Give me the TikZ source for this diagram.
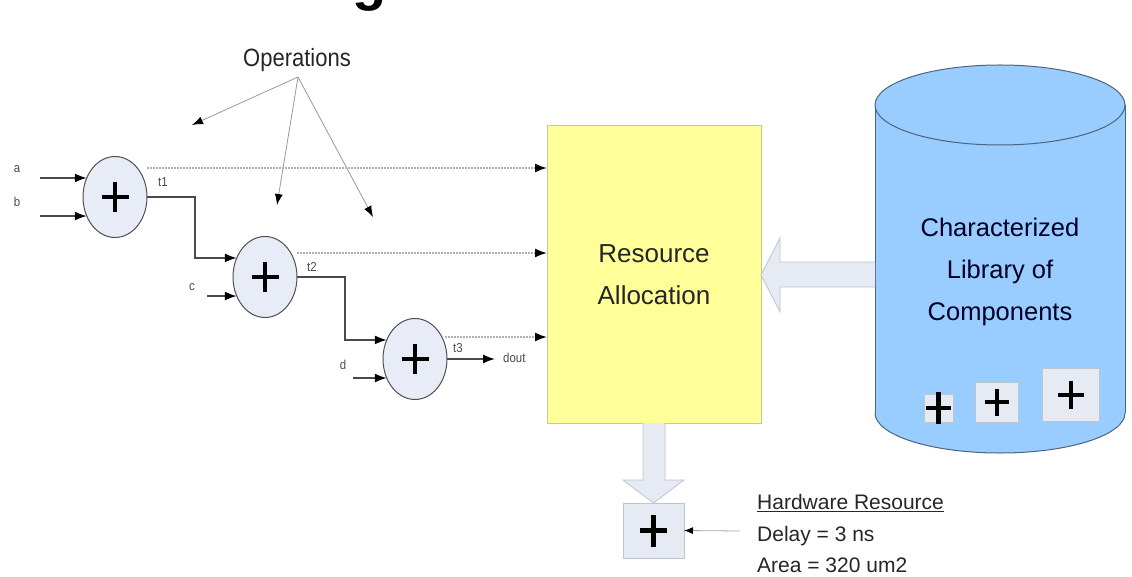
\documentclass[tikz,border=0pt]{standalone}
\usepackage{fontspec}
\setmainfont{Liberation Sans}
\newfontfamily\narrowfont[FakeStretch=0.88]{Liberation Sans}
\usetikzlibrary{arrows.meta,calc,shapes.geometric}
\definecolor{yellowfill}{HTML}{FFFF99}
\definecolor{yellowline}{HTML}{C8C89A}
\definecolor{cylfill}{HTML}{99CCFF}
\definecolor{cylline}{HTML}{4A6580}
\definecolor{adderfill}{HTML}{E8ECF6}
\definecolor{adderline}{HTML}{505050}
\definecolor{boxfill}{HTML}{E6EAF2}
\definecolor{boxline}{HTML}{BCC6D2}
\definecolor{dotline}{HTML}{B0B0B0}
\definecolor{wireline}{HTML}{4A4A4A}
\newcommand{\pluss}[4]{\draw[line width=#4,black] ($(#1)+(-#2,0)$) -- ($(#1)+(#2,0)$) ($(#1)+(0,-#3)$) -- ($(#1)+(0,#3)$);}
\tikzset{
  adder/.style={ellipse, draw=adderline, fill=adderfill, line width=1pt, minimum width=64pt, minimum height=81pt, inner sep=0pt, outer sep=0pt},
  compbox/.style={rectangle, draw=boxline, fill=boxfill, line width=0.8pt, inner sep=0pt, outer sep=0pt},
  tipsty/.style={-{Latex[length=12pt,width=9pt,color=black]}},
  wire/.style={draw=wireline, line width=1.6pt, tipsty},
  dotwire/.style={draw=dotline, line width=1.6pt, dash pattern=on 1.6pt off 1.4pt, tipsty},
  opsarrow/.style={draw=gray!80, line width=0.8pt, -{Latex[length=11pt,width=8pt,color=black]}},
  smalllabel/.style={font=\narrowfont\fontsize{13}{14}\selectfont, text=black!70, inner sep=0pt},
  blockarrow/.style={fill=boxfill, draw=boxline, line width=0.8pt}
}
\begin{document}
\begin{tikzpicture}[x=1pt,y=-1pt]
\clip (0,0) rectangle (1132,577);
\fill[white] (0,0) rectangle (1132,577);

% fragment of title letter (cut off at the top edge)
\node[font=\bfseries\fontsize{56}{56}\selectfont, anchor=base, inner sep=0pt] (titleg) at (370,0) {g};

% Operations label and pointers
\node[font=\narrowfont\fontsize{25}{27}\selectfont, inner sep=0pt, text=black!85] (ops) at (297,60) {Operations};
\coordinate (opsrc) at (298,77);
\coordinate (op1) at (192,125);
\coordinate (op2) at (277,205);
\coordinate (op3) at (373,217);
\draw[opsarrow] (opsrc) -- (op1);
\draw[opsarrow] (opsrc) -- (op2);
\draw[opsarrow] (opsrc) -- (op3);

% Resource allocation box
\node[rectangle, fill=yellowfill, draw=yellowline, line width=1pt, minimum width=214pt, minimum height=297pt, inner sep=0pt, outer sep=0pt,
      align=center, font=\fontsize{26}{42}\selectfont, text=black!85] (ra) at (654,274.5) {Resource\\Allocation};

% adders
\node[adder] (add1) at (115,197) {};
\node[adder] (add2) at (265,277) {};
\node[adder] (add3) at (415,359) {};
\pluss{add1}{13.5}{15}{4.5pt}
\pluss{add2}{13.5}{15}{4.5pt}
\pluss{add3}{13.5}{15}{4.5pt}

% inputs
\coordinate (ina) at (40,178);
\coordinate (inb) at (40,216);
\coordinate (inc) at (207,296);
\coordinate (ind) at (353,378);
\node[smalllabel] (la) at (17,169) {a};
\node[smalllabel] (lb) at (17,202) {b};
\node[smalllabel] (lc) at (192,287) {c};
\node[smalllabel] (ld) at (343,365) {d};
\draw[wire] (ina) -- (add1.146);
\draw[wire] (inb) -- (add1.214);
\draw[wire] (inc) -- (add2.214);
\draw[wire] (ind) -- (add3.214);

% chain wires
\draw[wire] (add1.east) -- ++(48,0) |- (add2.146);
\draw[wire] (add2.east) -- ++(48,0) |- (add3.146);
\coordinate (doutend) at (495,359);
\draw[wire] (add3.east) -- (doutend);
\node[smalllabel, anchor=west] (ldout) at (503,358) {dout};
\node[smalllabel] (lt1) at (163,182) {t1};
\node[smalllabel] (lt2) at (312,267) {t2};
\node[smalllabel] (lt3) at (458,348) {t3};

% dotted links to resource allocation
\coordinate (d1) at (147,168);
\coordinate (d2) at (297,253);
\coordinate (d3) at (445,337);
\draw[dotwire] (d1) -- (d1 -| ra.west);
\draw[dotwire] (d2) -- (d2 -| ra.west);
\draw[dotwire] (d3) -- (d3 -| ra.west);

% cylinder (library)
\fill[cylfill] (875,105) rectangle (1125,413);
\fill[cylfill] (1000,413) ellipse [x radius=125, y radius=40];
\begin{scope}
  \clip (860,413) rectangle (1140,470);
  \draw[cylline, line width=1pt] (1000,413) ellipse [x radius=125, y radius=40];
\end{scope}
\draw[cylline, line width=1pt] (875,105) -- (875,413) (1125,105) -- (1125,413);
\draw[cylline, line width=1pt, fill=cylfill] (1000,105) ellipse [x radius=125, y radius=40];
\node[align=center, font=\fontsize{25.5}{42}\selectfont, text=black!85!blue, inner sep=0pt] (lib) at (1000,272) {Characterized\\Library of\\Components};

% components inside library
\node[compbox, minimum width=29pt, minimum height=28pt] (comp1) at (938.5,408) {};
\node[compbox, minimum width=43pt, minimum height=40pt] (comp2) at (996.5,402) {};
\node[compbox, minimum width=57pt, minimum height=53pt] (comp3) at (1070.5,394.5) {};
\pluss{comp1}{12.5}{16}{4.5pt}
\pluss{comp2}{12}{13.5}{4pt}
\pluss{comp3}{13}{14}{4pt}

% block arrow library -> resource allocation
\coordinate (cylL) at (875,275);
\draw[blockarrow] (cylL) ++(0,-13) -- (780,262) -- (780,238) -- (ra.east |- cylL) -- (780,312) -- (780,287) -- (875,287);

% hardware resource box
\node[compbox, minimum width=61pt, minimum height=55pt] (hw) at (653.5,530.5) {};
\pluss{hw}{13.5}{16}{4.5pt}

% block arrow resource allocation -> hardware
\draw[blockarrow] (643,423) -- (643,480) -- (623,480) -- (hw.north) -- (684,480) -- (665,480) -- (665,423);

% hardware text
\node[anchor=north west, align=left, inner sep=0pt, font=\fontsize{21}{31.5}\selectfont, text=black!85] (hwtxt) at (757,494.5)
  {\underline{Hardware Resource}\\Delay = 3 ns\\Area = 320 um2};
\coordinate (hwptr) at (740,531);
\draw[draw=gray!70, line width=0.8pt, -{Latex[length=9pt,width=7pt,color=black]}] (hwptr) -- (hw.east);
\end{tikzpicture}
\end{document}
